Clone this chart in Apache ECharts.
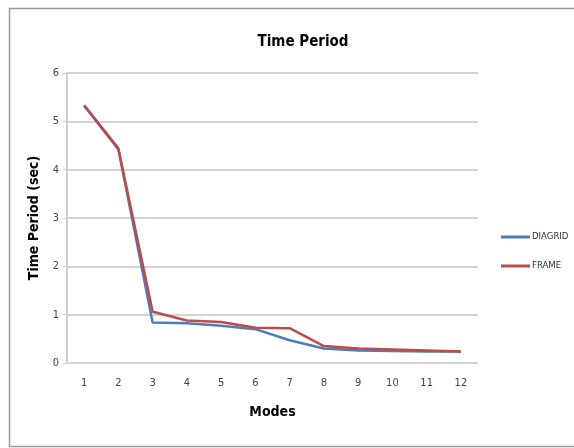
<!DOCTYPE html>
<html><head><meta charset="utf-8">
<script src="https://cdn.jsdelivr.net/npm/echarts@6/dist/echarts.min.js"></script>
<style>html,body{margin:0;padding:0;background:#fff}#c{width:574px;height:448px}</style>
</head><body><div id="c"></div>
<script>
const modes = ['1','2','3','4','5','6','7','8','9','10','11','12'];
const diagrid = [5.33, 4.42, 0.84, 0.82, 0.77, 0.70, 0.47, 0.30, 0.26, 0.25, 0.24, 0.24];
const frame = [5.33, 4.44, 1.06, 0.88, 0.85, 0.73, 0.72, 0.35, 0.30, 0.28, 0.26, 0.24];
const yTicks = [0, 1, 2, 3, 4, 5, 6];
const FONT = '"Liberation Sans Narrow", "DejaVu Sans Condensed", sans-serif';
const chart = echarts.init(document.getElementById('c'));
chart.setOption({
  animation: false,
  textStyle: {fontFamily: FONT},
  graphic: [{type:'rect', shape:{x:9.5,y:8.5,width:570,height:438}, style:{fill:'none', stroke:'#9a9a9a', lineWidth:1.5}, silent:true}],
  title: {text:'Time Period', left:298, top:30, textAlign:'center',
    textStyle:{fontFamily:FONT, fontSize:15, fontWeight:'bold', color:'#000'}},
  legend: {orient:'vertical', left:496, top:227, itemGap:19, itemWidth:29, itemHeight:3,
    icon:'rect', textStyle:{fontFamily:FONT, fontSize:9.5, color:'#333', padding:[0,0,0,-3]}, data:['DIAGRID','FRAME']},
  grid: {left:67, right:96, top:73, bottom:85},
  xAxis: {type:'category', data:modes, boundaryGap:true,
    name:'Modes', nameLocation:'middle', nameGap:42,
    nameTextStyle:{fontFamily:FONT, fontSize:14, fontWeight:'bold', color:'#000'},
    axisLine:{show:false}, axisTick:{show:false},
    axisLabel:{fontSize:11, color:'#444', margin:15}},
  yAxis: {type:'value', min:0, max:6, interval:1,
    name:'Time Period (sec)', nameLocation:'middle', nameGap:23,
    nameTextStyle:{fontFamily:FONT, fontSize:14, fontWeight:'bold', color:'#000'},
    axisLine:{show:true, lineStyle:{color:'#d0d0d0', width:2}},
    axisTick:{show:true, length:4, lineStyle:{color:'#d0d0d0'}},
    splitLine:{lineStyle:{color:'#d4d4d4', width:2}},
    axisLabel:{fontSize:11, color:'#444', margin:8,
      formatter: v => yTicks.includes(v) ? String(v) : ''}},
  series: [
    {name:'DIAGRID', type:'line', data:diagrid, symbol:'none', lineStyle:{color:'#4a7ebb', width:2.5}, itemStyle:{color:'#4a7ebb'}},
    {name:'FRAME', type:'line', data:frame, symbol:'none', lineStyle:{color:'#be4b48', width:2.5}, itemStyle:{color:'#be4b48'}}
  ]
});
</script></body></html>
